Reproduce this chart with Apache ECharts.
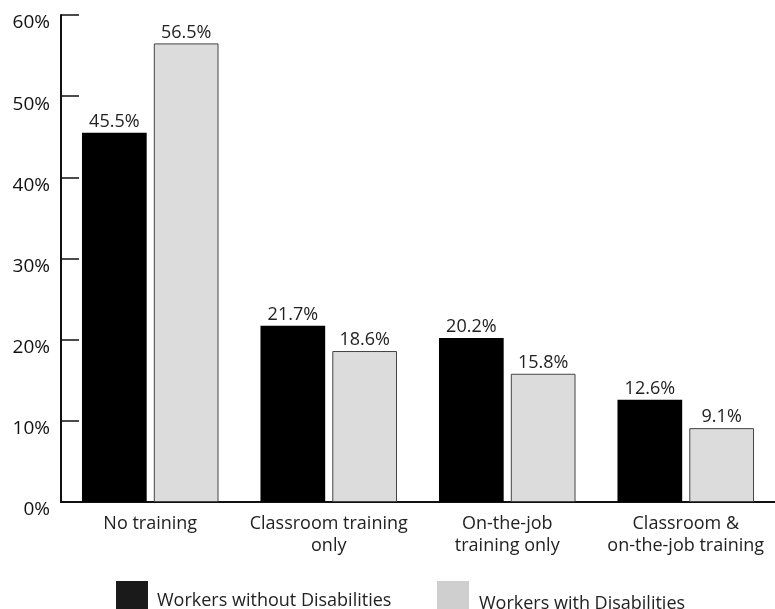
<!DOCTYPE html>
<html>
<head>
<meta charset="utf-8">
<script src="https://cdn.jsdelivr.net/npm/echarts@6/dist/echarts.min.js"></script>
<style>
  html, body { margin: 0; padding: 0; background: #fff; }
  #main { width: 775px; height: 609px; }
</style>
</head>
<body>
<div id="main"></div>
<script>
var categories = ['No training', 'Classroom training\nonly', 'On-the-job\ntraining only', 'Classroom &\non-the-job training'];
var withoutDisabilities = [45.5, 21.7, 20.2, 12.6];
var withDisabilities = [56.5, 18.6, 15.8, 9.1];
var seriesNames = ['Workers without Disabilities', 'Workers with Disabilities'];

var fontFamily = '"Open Sans", "Noto Sans", sans-serif';

function legendText(name) {
    return '{t|' + name + '}';
}

var myChart = echarts.init(document.getElementById('main'));
var option = {
    animation: false,
    textStyle: { fontFamily: fontFamily },
    grid: { left: 61, top: 15, bottom: 107, width: 718 },
    legend: [
        {
            data: [seriesNames[0]],
            left: 116, top: 581,
            padding: 0,
            itemWidth: 32, itemHeight: 32,
            icon: 'rect',
            itemStyle: { borderWidth: 0, color: '#1a1a1a' },
            formatter: legendText,
            textStyle: {
                rich: { t: { fontSize: 18, color: '#222', fontFamily: fontFamily, padding: [8, 0, 0, 4] } }
            }
        },
        {
            data: [seriesNames[1]],
            left: 437, top: 581,
            padding: 0,
            itemWidth: 32, itemHeight: 32,
            icon: 'rect',
            itemStyle: { borderWidth: 0, color: '#cfcfcf' },
            formatter: legendText,
            textStyle: {
                rich: { t: { fontSize: 18, color: '#222', fontFamily: fontFamily, padding: [14, 0, 0, 5] } }
            }
        }
    ],
    xAxis: {
        type: 'category',
        data: categories,
        axisLine: { lineStyle: { color: '#111', width: 2 } },
        axisTick: { inside: true, length: 12, interval: 0, lineStyle: { color: '#111', width: 1.5 } },
        axisLabel: { fontSize: 18, color: '#222', margin: 11, lineHeight: 22, interval: 0 }
    },
    yAxis: {
        type: 'value',
        min: 0, max: 60, interval: 10,
        axisLine: { show: true, lineStyle: { color: '#111', width: 2 } },
        axisTick: { show: true, inside: true, length: 18, lineStyle: { color: '#111', width: 1.5 } },
        axisLabel: { fontSize: 19, color: '#111', margin: 11, formatter: '{value}%', verticalAlign: 'top', lineHeight: 16 },
        splitLine: { show: false }
    },
    series: [
        {
            name: seriesNames[0],
            type: 'bar',
            data: withoutDisabilities,
            barGap: '11%',
            barCategoryGap: '23.5%',
            itemStyle: { color: '#000' },
            label: { show: true, position: 'top', distance: 2, formatter: '{c}%', fontSize: 18, color: '#222' }
        },
        {
            name: seriesNames[1],
            type: 'bar',
            data: withDisabilities,
            itemStyle: { color: '#dcdcdc', borderColor: '#444', borderWidth: 1 },
            label: { show: true, position: 'top', distance: 2, formatter: '{c}%', fontSize: 18, color: '#222' }
        }
    ]
};
myChart.setOption(option);
</script>
</body>
</html>
